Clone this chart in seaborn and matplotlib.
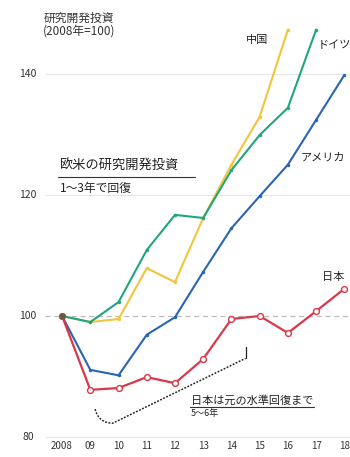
import matplotlib
matplotlib.use("Agg")
import matplotlib.pyplot as plt
import numpy as np
import pandas as pd
import seaborn as sns

years = [2008, 2009, 2010, 2011, 2012, 2013, 2014, 2015, 2016, 2017, 2018]
year_labels = ["2008", "09", "10", "11", "12", "13", "14", "15", "16", "17", "18"]

japan   = [100, 87.8, 88.1, 89.9, 88.9, 92.9, 99.5, 100.0, 97.2, 100.8, 104.5]
usa     = [100, 91.1, 90.2, 96.9, 99.8, 107.3, 114.5, 119.8, 125.0, 132.4, 139.8]
germany = [100, 99.0, 102.3, 110.9, 116.7, 116.2, 124.1, 129.9, 134.4, 147.3]
china   = [100, 99.0, 99.5, 107.9, 105.6, 116.2, 125.0, 132.9, 147.3]

countries = ["中国", "ドイツ", "アメリカ", "日本"]
colors = {"中国": "#f3c53a", "ドイツ": "#1fa67f", "アメリカ": "#2a64b4", "日本": "#d8384a"}
series = {"中国": china, "ドイツ": germany, "アメリカ": usa, "日本": japan}

rows = []
for c in countries:
    for y, v in zip(years, series[c]):
        rows.append({"year": y, "value": v, "country": c})
df = pd.DataFrame(rows)

sns.set_theme(style="white")
plt.rcParams["font.family"] = ["Noto Sans CJK JP", "DejaVu Sans"]

fig = plt.figure(figsize=(3.5, 4.57), dpi=100)
ax = fig.add_axes([0.129, 0.037, 0.871, 0.963])

for c in countries:
    sub = df[df["country"] == c]
    if c == "日本":
        sns.lineplot(data=sub, x="year", y="value", ax=ax, color=colors[c], lw=1.6,
                     marker="o", markersize=4.2, markerfacecolor="white",
                     markeredgecolor=colors[c], markeredgewidth=1.0, zorder=4)
    else:
        sns.lineplot(data=sub, x="year", y="value", ax=ax, color=colors[c], lw=1.5,
                     marker="o", markersize=2.5, markeredgewidth=0, zorder=3)

# starting point
ax.plot([years[0]], [japan[0]], marker="s", ms=3.5, color="#6b5a3a", zorder=5)

ax.set_xlim(2007.4, 2018.2)
ax.set_ylim(79.5, 152.2)
for yv in [80, 120, 140]:
    ax.axhline(yv, color="#e6e6e6", lw=0.8, zorder=0)
ax.axhline(100, color="#bbbbbb", lw=0.9, ls=(0, (4, 3)), zorder=1)

ax.set_yticks([])
for yv in [80, 100, 120, 140]:
    ax.text(-0.056, yv, str(yv), transform=ax.get_yaxis_transform(), fontsize=7.5,
            ha="center", va="center", color="#333333", clip_on=False)
ax.set_xticks(years)
ax.set_xticklabels(year_labels, fontsize=7, color="#333333")
ax.tick_params(axis="x", length=0, pad=1)
ax.set_xlabel("")
ax.set_ylabel("")
for s in ax.spines.values():
    s.set_visible(False)

fig.text(0.226, 0.975, "研究開発投資\n(2008年=100)", fontsize=8.5, va="top", ha="center",
         multialignment="center", color="#333333", linespacing=1.05)

ax.text(2015.3, 145.6, "中国", fontsize=8, ha="right", va="center", color="#222222")
ax.text(2017.05, 144.8, "ドイツ", fontsize=8, ha="left", va="center", color="#222222")
ax.text(2016.45, 126.1, "アメリカ", fontsize=8, ha="left", va="center", color="#222222")
ax.text(2017.2, 106.4, "日本", fontsize=8, ha="left", va="center", color="#222222")

ax.text(2007.93, 124.7, "欧米の研究開発投資", fontsize=9.5, ha="left",
        va="center", color="#222222")
ax.plot([2007.86, 2012.7], [123.0, 123.0], color="#333333", lw=0.8)
ax.text(2007.93, 121.0, "1〜3年で回復", fontsize=8.5, ha="left",
        va="center", color="#222222")

ax.text(2012.55, 86.1, "日本は元の水準回復まで", fontsize=8, ha="left",
        va="center", color="#222222")
ax.plot([2012.52, 2016.94], [85.0, 85.0], color="#333333", lw=0.8)
ax.text(2012.55, 83.9, "5〜6年", fontsize=6.5, ha="left",
        va="center", color="#222222")

# dotted bracket: hook then straight run up to 2014.5
t = np.linspace(0, 1, 20)
p0, pc, p1 = np.array([2009.17, 84.6]), np.array([2009.3, 82.3]), np.array([2009.8, 82.3])
hook = ((1 - t) ** 2)[:, None] * p0 + (2 * (1 - t) * t)[:, None] * pc + (t ** 2)[:, None] * p1
run = np.column_stack([np.linspace(2009.8, 2014.5, 30), np.linspace(82.3, 93.0, 30)])
bracket = np.vstack([hook, run])
ax.plot(bracket[:, 0], bracket[:, 1], color="#222222", lw=1.1, ls=(0, (1.2, 1)))
ax.plot([2014.5, 2014.5], [93.1, 94.9], color="#222222", lw=0.9)

fig.savefig("out.png", dpi=100)
